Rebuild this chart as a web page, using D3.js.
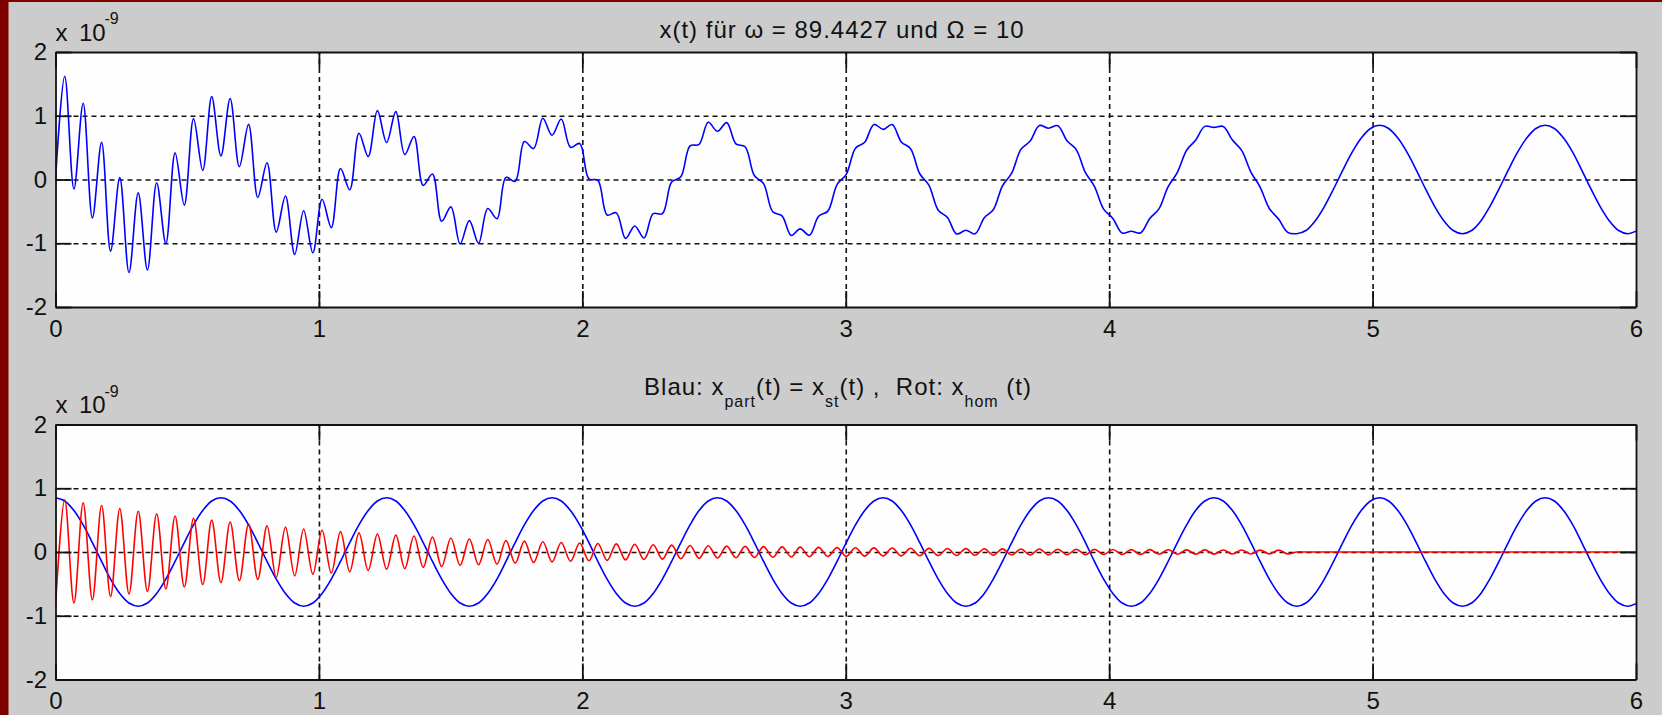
<!DOCTYPE html>
<html>
<head>
<meta charset="utf-8">
<script src="https://cdn.jsdelivr.net/npm/d3@7"></script>
<style>
    body { margin: 0; background: #800000; }
    svg { display: block; font-family: "Liberation Sans", Arial, Helvetica, sans-serif; }
    .axis path, .axis line { stroke: #111; stroke-width: 1.8; fill: none; }
    .axis text { font-family: "Liberation Sans", Arial, sans-serif; font-size: 24px; fill: #111; }
    .grid line { stroke: #111; stroke-width: 1.6; stroke-dasharray: 5,4; }
    .grid path { display: none; }
    .title { font-size: 24px; fill: #111; white-space: pre; }
</style>
</head>
<body>
<div id="figure"></div>
<script>

// sample times in s (one sample at every extremum of the fast oscillation)
const tValues = [
    0, 0.035, 0.070, 0.105, 0.140, 0.175, 0.209, 0.244, 0.279, 0.314, 0.349, 0.384, 0.419, 0.454, 0.489, 0.524, 0.559, 0.593,
    0.628, 0.663, 0.698, 0.733, 0.768, 0.803, 0.838, 0.873, 0.908, 0.942, 0.977, 1.012, 1.047, 1.082, 1.117, 1.152, 1.187, 1.222,
    1.257, 1.292, 1.326, 1.361, 1.396, 1.431, 1.466, 1.501, 1.536, 1.571, 1.606, 1.641, 1.676, 1.710, 1.745, 1.780, 1.815, 1.850,
    1.885, 1.920, 1.955, 1.990, 2.025, 2.059, 2.094, 2.129, 2.164, 2.199, 2.234, 2.269, 2.304, 2.339, 2.374, 2.409, 2.443, 2.478,
    2.513, 2.548, 2.583, 2.618, 2.653, 2.688, 2.723, 2.758, 2.793, 2.827, 2.862, 2.897, 2.932, 2.967, 3.002, 3.037, 3.072, 3.107,
    3.142, 3.176, 3.211, 3.246, 3.281, 3.316, 3.351, 3.386, 3.421, 3.456, 3.491, 3.526, 3.560, 3.595, 3.630, 3.665, 3.700, 3.735,
    3.770, 3.805, 3.840, 3.875, 3.910, 3.944, 3.979, 4.014, 4.049, 4.084, 4.119, 4.154, 4.189, 4.224, 4.259, 4.294, 4.328, 4.363,
    4.398, 4.433, 4.468, 4.503, 4.538, 4.573, 4.608, 4.643, 4.678, 4.712, 4.747, 4.782, 4.817, 4.852, 4.887, 4.922, 4.957, 4.992,
    5.027, 5.061, 5.096, 5.131, 5.166, 5.201, 5.236, 5.271, 5.306, 5.341, 5.376, 5.411, 5.445, 5.480, 5.515, 5.550, 5.585, 5.620,
    5.655, 5.690, 5.725, 5.760, 5.794, 5.829, 5.864, 5.899, 5.934, 5.969, 6.000
];

// blue: x_part(t) = x_st(t)  (x 1e-9)
const xPart = [
    0.85, 0.80, 0.65, 0.425, 0.148, -0.148, -0.425, -0.65, -0.80, -0.85, -0.80, -0.65, -0.425, -0.148, 0.148, 0.425, 0.65, 0.80,
    0.85, 0.80, 0.65, 0.425, 0.148, -0.148, -0.425, -0.65, -0.80, -0.85, -0.80, -0.65, -0.425, -0.148, 0.148, 0.425, 0.65, 0.80,
    0.85, 0.80, 0.65, 0.425, 0.148, -0.148, -0.425, -0.65, -0.80, -0.85, -0.80, -0.65, -0.425, -0.148, 0.148, 0.425, 0.65, 0.80,
    0.85, 0.80, 0.65, 0.425, 0.148, -0.148, -0.425, -0.65, -0.80, -0.85, -0.80, -0.65, -0.425, -0.148, 0.148, 0.425, 0.65, 0.80,
    0.85, 0.80, 0.65, 0.425, 0.148, -0.148, -0.425, -0.65, -0.80, -0.85, -0.80, -0.65, -0.425, -0.148, 0.148, 0.425, 0.65, 0.80,
    0.85, 0.80, 0.65, 0.425, 0.148, -0.148, -0.425, -0.65, -0.80, -0.85, -0.80, -0.65, -0.425, -0.148, 0.148, 0.425, 0.65, 0.80,
    0.85, 0.80, 0.65, 0.425, 0.148, -0.148, -0.425, -0.65, -0.80, -0.85, -0.80, -0.65, -0.425, -0.148, 0.148, 0.425, 0.65, 0.80,
    0.85, 0.80, 0.65, 0.425, 0.148, -0.148, -0.425, -0.65, -0.80, -0.85, -0.80, -0.65, -0.425, -0.148, 0.148, 0.425, 0.65, 0.80,
    0.85, 0.80, 0.65, 0.425, 0.148, -0.148, -0.425, -0.65, -0.80, -0.85, -0.80, -0.65, -0.425, -0.148, 0.148, 0.425, 0.65, 0.80,
    0.85, 0.80, 0.65, 0.425, 0.148, -0.148, -0.425, -0.65, -0.80, -0.85, -0.81
];

// red: x_hom(t)  (x 1e-9), flat after ~4.7 s
const xHom = [
    -0.85, 0.82, -0.80, 0.77, -0.75, 0.73, -0.70, 0.68, -0.66, 0.64, -0.62, 0.60, -0.58, 0.565, -0.55, 0.53, -0.51, 0.50,
    -0.48, 0.47, -0.45, 0.44, -0.43, 0.41, -0.40, 0.39, -0.375, 0.36, -0.35, 0.34, -0.33, 0.32, -0.31, 0.30, -0.29, 0.28,
    -0.27, 0.265, -0.26, 0.25, -0.24, 0.235, -0.23, 0.22, -0.21, 0.205, -0.20, 0.195, -0.19, 0.18, -0.175, 0.17, -0.165, 0.16,
    -0.155, 0.15, -0.145, 0.14, -0.138, 0.134, -0.131, 0.127, -0.124, 0.121, -0.117, 0.114, -0.111, 0.108, -0.105, 0.102, -0.100, 0.097,
    -0.094, 0.092, -0.090, 0.088, -0.086, 0.084, -0.082, 0.080, -0.078, 0.076, -0.074, 0.073, -0.071, 0.069, -0.068, 0.067, -0.065, 0.064,
    -0.063, 0.062, -0.061, 0.059, -0.058, 0.057, -0.056, 0.055, -0.054, 0.053, -0.052, 0.051, -0.050, 0.049, -0.048, 0.047, -0.047, 0.046,
    -0.045, 0.044, -0.043, 0.043, -0.042, 0.041, -0.040, 0.040, -0.039, 0.038, -0.038, 0.037, -0.036, 0.036, -0.035, 0.034, -0.034, 0.033,
    -0.033, 0.032, -0.032, 0.031, -0.031, 0.030, -0.030, 0.029, -0.029, 0, 0, 0, 0, 0, 0, 0, 0, 0,
    0, 0, 0, 0, 0, 0, 0, 0, 0, 0, 0, 0, 0, 0, 0, 0, 0, 0,
    0, 0, 0, 0, 0, 0, 0, 0, 0, 0, 0
];

const xTicks = [0, 1, 2, 3, 4, 5, 6];
const yTicks = [-2, -1, 0, 1, 2];
const xGrid = [1, 2, 3, 4, 5];
const yGrid = [-1, 0, 1];

const titleTop = "x(t) für ω = 89.4427 und Ω = 10";
// [text, isSubscript]
const titleBottom = [
    ["Blau: x", 0], ["part", 1], ["(t) = x", 0], ["st", 1], ["(t) ,  Rot: x", 0], ["hom", 1], [" (t)", 0]
];


class SignalPanel {
    /**
     * @param {object} svg - d3 selection of the figure svg
     * @param {string} id - panel id (used for the clip path)
     * @param {object} box - pixel box of the axes {left, right, top, bottom}
     * @param {Array} series - [{data: [[t, x], ...], color}]
     */
    constructor(svg, id, box, series) {
        this.svg = svg;
        this.id = id;
        this.box = box;
        this.series = series;

        this.initVis();
    }

    initVis() {
        let vis = this;

        vis.width = vis.box.right - vis.box.left;
        vis.height = vis.box.bottom - vis.box.top;

        vis.g = vis.svg.append("g")
            .attr("transform", "translate(" + vis.box.left + "," + vis.box.top + ")");

        vis.x = d3.scaleLinear()
            .domain([0, 6])
            .range([0, vis.width]);

        vis.y = d3.scaleLinear()
            .domain([-2, 2])
            .range([vis.height, 0]);

        // white axes area
        vis.g.append("rect")
            .attr("width", vis.width)
            .attr("height", vis.height)
            .attr("fill", "#fdfefd");

        // dashed grid
        vis.g.append("g")
            .attr("class", "grid")
            .attr("transform", "translate(0," + vis.height + ")")
            .call(d3.axisBottom(vis.x).tickValues(xGrid).tickSize(-vis.height).tickFormat(""));

        vis.g.append("g")
            .attr("class", "grid")
            .call(d3.axisLeft(vis.y).tickValues(yGrid).tickSize(-vis.width).tickFormat(""));

        vis.g.append("defs")
            .append("clipPath")
            .attr("id", "clip-" + vis.id)
            .append("rect")
            .attr("width", vis.width)
            .attr("height", vis.height);

        vis.lineArea = vis.g.append("g")
            .attr("clip-path", "url(#clip-" + vis.id + ")");

        vis.line = d3.line()
            .curve(d3.curveCatmullRom)
            .x(d => vis.x(d[0]))
            .y(d => vis.y(d[1]));

        // box with inward ticks on all four sides
        let fmt = d => String(d);

        vis.g.append("g")
            .attr("class", "axis")
            .attr("transform", "translate(0," + vis.height + ")")
            .call(d3.axisBottom(vis.x).tickValues(xTicks).tickSizeInner(-16).tickSizeOuter(0)
                .tickPadding(12.5).tickFormat(fmt));

        vis.g.append("g")
            .attr("class", "axis")
            .call(d3.axisTop(vis.x).tickValues(xTicks).tickSizeInner(-16).tickSizeOuter(0).tickFormat(""));

        vis.g.append("g")
            .attr("class", "axis")
            .call(d3.axisLeft(vis.y).tickValues(yTicks).tickSizeInner(-16).tickSizeOuter(0)
                .tickPadding(8.5).tickFormat(fmt));

        vis.g.append("g")
            .attr("class", "axis")
            .attr("transform", "translate(" + vis.width + ",0)")
            .call(d3.axisRight(vis.y).tickValues(yTicks).tickSizeInner(-16).tickSizeOuter(0).tickFormat(""));

        // "x 10^-9" scale factor
        let scaleLabel = vis.g.append("text")
            .attr("y", -11.5)
            .style("font-size", "24px")
            .style("fill", "#111");

        scaleLabel.append("tspan").attr("x", 0).text("x");
        scaleLabel.append("tspan").attr("x", 23.5).text("10");
        scaleLabel.append("tspan").attr("x", 49).attr("dy", -16.5).style("font-size", "16px").text("-9");

        vis.updateVis();
    }

    updateVis() {
        let vis = this;

        vis.lineArea.selectAll(".signal")
            .data(vis.series)
            .enter().append("path")
            .attr("class", "signal")
            .attr("fill", "none")
            .attr("stroke", d => d.color)
            .attr("stroke-width", 1.6)
            .attr("stroke-linejoin", "round")
            .attr("d", d => vis.line(d.data));
    }
}


const W = 1662, H = 715;

let svg = d3.select("#figure").append("svg")
    .attr("width", W)
    .attr("height", H);

// dark red page edge and grey figure background
svg.append("rect").attr("width", W).attr("height", H).attr("fill", "#800000");
svg.append("rect").attr("x", 8.5).attr("y", 2).attr("width", W - 8.5).attr("height", H - 2).attr("fill", "#cccccc");

let partSeries = tValues.map((t, i) => [t, xPart[i]]);
let homSeries = tValues.map((t, i) => [t, xHom[i]]);
let totalSeries = tValues.map((t, i) => [t, xPart[i] + xHom[i]]);

new SignalPanel(svg, "top", { left: 55.5, right: 1636, top: 52, bottom: 307 },
    [{ data: totalSeries, color: "#0000ff" }]);

new SignalPanel(svg, "bottom", { left: 55.5, right: 1636, top: 424.5, bottom: 679.5 },
    [{ data: partSeries, color: "#0000ff" }, { data: homSeries, color: "#ff0000" }]);

// titles
svg.append("text")
    .attr("class", "title")
    .attr("x", 842)
    .attr("y", 38)
    .attr("text-anchor", "middle")
    .style("letter-spacing", "1px")
    .text(titleTop);

let bottomTitle = svg.append("text")
    .attr("class", "title")
    .attr("x", 838)
    .attr("y", 395)
    .attr("text-anchor", "middle")
    .style("letter-spacing", "1px");

let lowered = false;
titleBottom.forEach(([txt, sub]) => {
    let dy = 0;
    if (sub && !lowered) { dy = 12; lowered = true; }
    if (!sub && lowered) { dy = -12; lowered = false; }
    bottomTitle.append("tspan")
        .attr("dy", dy)
        .style("font-size", sub ? "16px" : "24px")
        .text(txt);
});

</script>
</body>
</html>
